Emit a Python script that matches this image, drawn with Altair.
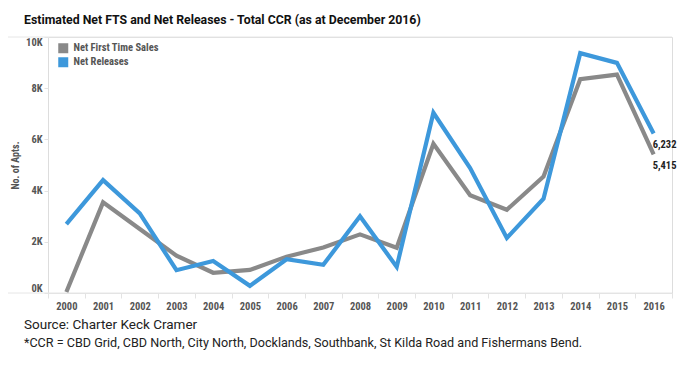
import altair as alt
import pandas as pd

years = [str(y) for y in range(2000, 2017)]
net_fts = [40, 3540, 2500, 1460, 790, 900, 1420, 1780, 2290, 1770, 5830, 3820, 3250, 4550, 8350, 8530, 5415]
net_releases = [2690, 4410, 3110, 890, 1250, 280, 1320, 1100, 3000, 1020, 7040, 4880, 2150, 3680, 9370, 8990, 6232]
series_names = ["Net First Time Sales", "Net Releases"]
colors = ["#898989", "#3D98DB"]
y_ticks = [0, 2000, 4000, 6000, 8000, 10000]
title_text = "Estimated Net FTS and Net Releases - Total CCR (as at December 2016)"
source_lines = [
    "Source: Charter Keck Cramer",
    "*CCR = CBD Grid, CBD North, City North, Docklands, Southbank, St Kilda Road and Fishermans Bend.",
]

rows = []
for s, vals in zip(series_names, [net_fts, net_releases]):
    for yr, v in zip(years, vals):
        rows.append({"year": yr, "series": s, "value": v})
df = pd.DataFrame(rows)
last = df[df["year"] == years[-1]].copy()
last["label"] = last["value"].map(lambda v: f"{v:,}")

NARROW = "Roboto Condensed, Liberation Sans Narrow, Roboto, sans-serif"
W, H = 624, 256

x_enc = alt.X("year:O", sort=years,
              scale=alt.Scale(paddingInner=0, paddingOuter=0),
              axis=alt.Axis(title=None, labelAngle=0, labelFont=NARROW, labelFontSize=10.5,
                            labelFontWeight="bold", labelColor="#555555", tickBand="extent",
                            tickColor="#e3e3e3", tickSize=5, domainColor="#e3e3e3",
                            labelPadding=3))
y_enc = alt.Y("value:Q", scale=alt.Scale(domain=[0, 10000], nice=False),
              axis=alt.Axis(title="No. of Apts.", values=y_ticks, grid=False,
                            labelExpr="(datum.value/1000) + 'K'", labelFont=NARROW,
                            labelFontSize=10.5, labelFontWeight="bold", labelColor="#555555",
                            labelFlush=True, domain=False, tickColor="#e3e3e3", tickSize=4,
                            titleFont=NARROW, titleFontSize=10, titleFontWeight="bold",
                            titleColor="#555555", titleX=-28, titleY=H / 2))

color_scale = alt.Scale(domain=series_names, range=colors)

lines = alt.Chart(df).mark_line(strokeWidth=4.2, strokeJoin="miter").encode(
    x=x_enc, y=y_enc,
    color=alt.Color("series:N", scale=color_scale, legend=None),
    order=alt.Order("year:O"),
)

legend_layer = alt.Chart(df).mark_square(opacity=0, size=1).encode(
    fill=alt.Fill("series:N", scale=color_scale,
                  legend=alt.Legend(title=None, orient="none", legendX=10, legendY=6,
                                    symbolType="square", symbolSize=100, symbolStrokeWidth=0,
                                    symbolOpacity=1, labelFont=NARROW, labelFontSize=10.5,
                                    labelFontWeight="bold", labelColor="#555555",
                                    rowPadding=3, labelOffset=5)),
)

labels = alt.Chart(last).mark_text(align="left", baseline="middle", dx=-1, dy=12,
                                   font=NARROW, fontSize=10.5, fontWeight="bold", color="#222222").encode(
    x=alt.X("year:O", sort=years), y="value:Q", text="label:N"
)

frame_df = pd.DataFrame({"a": [0]})
top_rule = alt.Chart(frame_df).mark_rule(color="#e6e6e6", strokeWidth=1).encode(
    x=alt.value(-40), x2=alt.value(W), y=alt.value(0))
bottom_rule = alt.Chart(frame_df).mark_rule(color="#e6e6e6", strokeWidth=1).encode(
    x=alt.value(-40), x2=alt.value(W), y=alt.value(H))

foot_df = pd.DataFrame({"t": source_lines, "i": [0, 1]})
foot1 = alt.Chart(foot_df.iloc[[0]]).mark_text(align="left", baseline="middle", font="Roboto",
                                               fontSize=13.5, color="#222222").encode(
    x=alt.value(-24), y=alt.value(H + 32), text="t:N")
foot2 = alt.Chart(foot_df.iloc[[1]]).mark_text(align="left", baseline="middle", font="Roboto",
                                               fontSize=12.6, color="#222222").encode(
    x=alt.value(-24), y=alt.value(H + 50), text="t:N")

chart = alt.layer(top_rule, bottom_rule, legend_layer, lines, labels, foot1, foot2).properties(
    width=W, height=H,
    title=alt.TitleParams(title_text, anchor="start", frame="group", dx=-24, offset=10,
                          font="Roboto", fontSize=12.3, fontWeight="bold", color="#111111"),
    padding={"left": 40, "top": 29, "right": 14, "bottom": 67},
    autosize=alt.AutoSizeParams(type="none"),
).configure_view(stroke="#e6e6e6", strokeWidth=1).configure(background="white")

chart.save("out.html", embed_options={"renderer": "svg", "actions": False})
